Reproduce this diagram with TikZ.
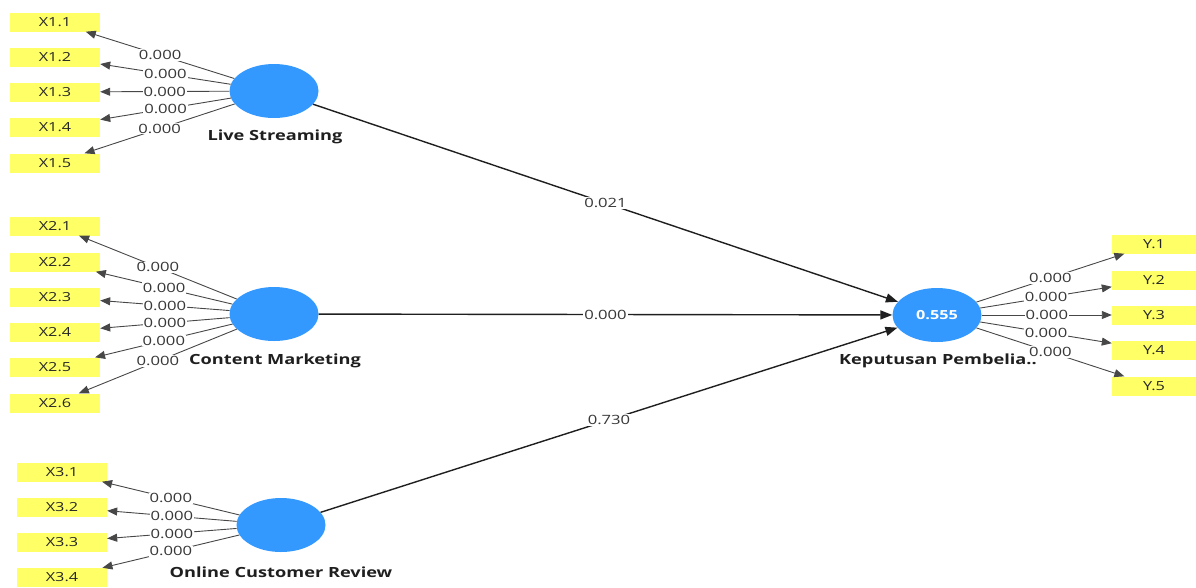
\documentclass[tikz,border=0pt]{standalone}
\usepackage{fontspec}
\setmainfont{Open Sans}[FakeStretch=1.3]
\usetikzlibrary{shapes.geometric,arrows.meta}
\definecolor{ind}{HTML}{FFFF66}
\definecolor{lv}{HTML}{3399FF}
\begin{document}
\begin{tikzpicture}[x=1pt,y=-1pt,
  indbox/.style={fill=ind,minimum width=90pt,minimum height=19pt,inner sep=0pt,text=black!85,font=\fontsize{12.5}{13}\selectfont},
  ybox/.style={indbox,minimum width=84pt},
  latent/.style={ellipse,fill=lv,minimum width=89pt,minimum height=54pt,inner sep=0pt},
  lvlabel/.style={font=\bfseries\fontsize{14}{15}\selectfont,text=black!88},
  load/.style={draw=black!72,line width=0.9pt,-{Triangle[length=10pt,width=8pt]}},
  struct/.style={draw=black!88,line width=1.4pt,-{Triangle[length=12pt,width=9pt]}},
  wt/.style={fill=white,inner sep=1pt,text=black!78,font=\fontsize{12.8}{13}\selectfont}]
\useasboundingbox (0,0) rectangle (1196,587);
% latent variables
\node[latent] (LS) at (274,91) {};
\node[latent] (CM) at (274,314) {};
\node[latent] (OCR) at (281,525) {};
\node[latent] (KP) at (937,315) {\textcolor{white}{\bfseries\fontsize{12.5}{13}\selectfont 0.555}};
\node[lvlabel] (LSl) at (275,137) {Live Streaming};
\node[lvlabel] (CMl) at (275,361) {Content Marketing};
\node[lvlabel] (OCRl) at (281,572) {Online Customer Review};
\node[lvlabel] (KPl) at (938,361) {Keputusan Pembelia..};
% indicators
\foreach \i/\y in {1/22,2/57,3/92,4/127,5/163} \node[indbox] (x1\i) at (55,\y) {X1.\i};
\foreach \i/\y in {1/226,2/262,3/297,4/332,5/367,6/403} \node[indbox] (x2\i) at (55,\y) {X2.\i};
\foreach \i/\y in {1/472,2/507,3/542,4/577.5} \node[indbox] (x3\i) at (62,\y) {X3.\i};
\foreach \i/\y in {1/244,2/280,3/315,4/350,5/386} \node[ybox] (y\i) at (1154,\y) {Y.\i};
% loading lines
\foreach \i in {1,...,5} \draw[load] (LS) -- (x1\i);
\foreach \i in {1,...,6} \draw[load] (CM) -- (x2\i);
\foreach \i in {1,...,4} \draw[load] (OCR) -- (x3\i);
\foreach \i in {1,...,5} \draw[load] (KP) -- (y\i);
% loading labels
\foreach \i in {1,...,5} \path (LS) -- (x1\i) node[wt,midway] (w1\i) {0.000};
\foreach \i in {1,...,6} \path (CM) -- (x2\i) node[wt,midway] (w2\i) {0.000};
\foreach \i in {1,...,4} \path (OCR) -- (x3\i) node[wt,midway] (w3\i) {0.000};
\foreach \i in {1,...,5} \path (KP) -- (y\i) node[wt,midway] (wy\i) {0.000};
% structural paths
\draw[struct] (LS) -- (KP) node[wt,midway] (p1) {0.021};
\draw[struct] (CM) -- (KP) node[wt,midway] (p2) {0.000};
\draw[struct] (OCR) -- (KP) node[wt,midway] (p3) {0.730};
\end{tikzpicture}
\end{document}
